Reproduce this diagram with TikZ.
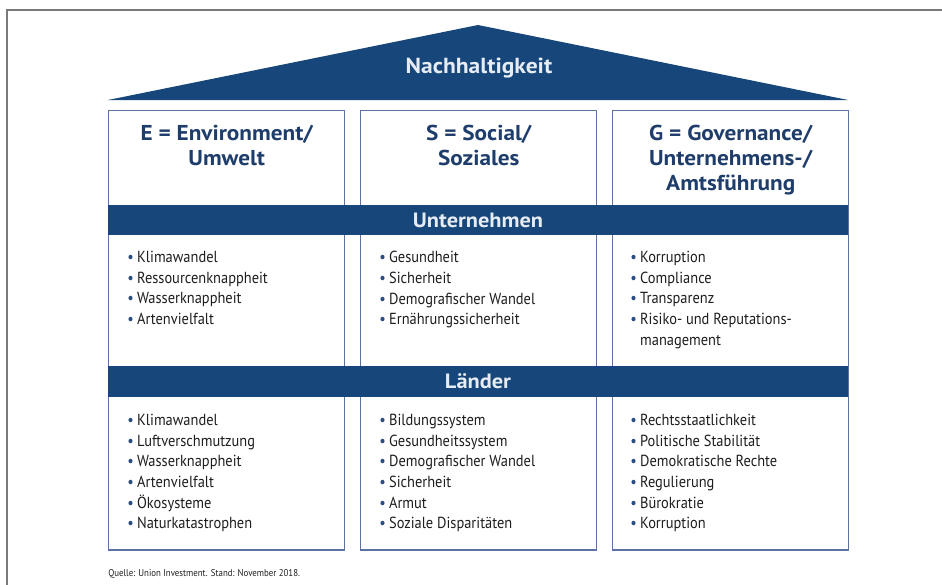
\documentclass[tikz,border=0pt]{standalone}
\usepackage{fontspec}
\setmainfont[FakeStretch=0.9]{PT Sans}
\newfontfamily\titlefont[FakeStretch=1.08]{PT Sans}
\usetikzlibrary{positioning}
\definecolor{roofblue}{HTML}{16467A}
\definecolor{titleblue}{HTML}{1F3D6B}
\definecolor{boxline}{HTML}{5C73A0}
\definecolor{bandtext}{HTML}{E6ECF4}
\definecolor{itemtext}{HTML}{1E1E1E}
\definecolor{dotblue}{HTML}{2A4C80}
\definecolor{framegray}{HTML}{7A7A7A}
\newcommand{\pkt}{\makebox[7pt][l]{\textcolor{dotblue}{\textbullet}}}
\newcommand{\weiter}{\hspace*{7pt}}

\begin{document}
\begin{tikzpicture}
			[
				x = 0.025cm, y = -0.025cm,
				pillar/.style = {draw = boxline, line width = 1pt, fill = white, anchor = north west, inner sep = 0pt, minimum width = 5.9cm, minimum height = 10.975cm},
				pillartitle/.style = {align = center, inner sep = 0pt, text = titleblue, font = \titlefont\fontsize{15.3}{18}\selectfont\bfseries},
				band/.style = {fill = roofblue, inner sep = 0pt, minimum width = 18.5cm, minimum height = 0.76cm, text = bandtext, font = \titlefont\fontsize{14.7}{18}\selectfont\bfseries},
				itemlist/.style = {anchor = north west, align = left, inner sep = 0pt, text = itemtext, font = \fontsize{11.4}{14.7}\selectfont},
				frameline/.style = {draw = framegray, line width = 1pt}
			]
			\useasboundingbox (0,0) rectangle (942,585);
			%
			\draw [frameline] (7,585) -- (7,10) -- (942,10);
			%
			\fill [roofblue] (108,100) -- (478,25) -- (848,100) -- cycle;
			\node (roof) [pillartitle, text = bandtext, font = \titlefont\fontsize{15.5}{18}\selectfont\bfseries] at (479,68) {Nachhaltigkeit};
			%
			\node (envbox) [pillar] at (108,110) {};
			\node (socbox) [pillar] at (360,110) {};
			\node (govbox) [pillar] at (612,110) {};
			%
			\node (envtitle) [pillartitle, below = 0.36cm of envbox.north] {E = Environment/\\Umwelt};
			\node (soctitle) [pillartitle, below = 0.36cm of socbox.north] {S = Social/\\Soziales};
			\node (govtitle) [pillartitle, below = 0.36cm of govbox.north] {G = Governance/\\Unternehmens-/\\Amtsführung};
			%
			\node (firmband) [band] at (478,220) {Unternehmen};
			\node (landband) [band] at (478,381.5) {Länder};
			%
			\node (envfirm) [itemlist] at (127,251) {\pkt Klimawandel\\\pkt Ressourcenknappheit\\\pkt Wasserknappheit\\\pkt Artenvielfalt};
			\node (socfirm) [itemlist] at (379,251) {\pkt Gesundheit\\\pkt Sicherheit\\\pkt Demografischer Wandel\\\pkt Ernährungssicherheit};
			\node (govfirm) [itemlist] at (630,251) {\pkt Korruption\\\pkt Compliance\\\pkt Transparenz\\\pkt Risiko- und Reputations-\\\weiter management};
			%
			\node (envland) [itemlist] at (127,414) {\pkt Klimawandel\\\pkt Luftverschmutzung\\\pkt Wasserknappheit\\\pkt Artenvielfalt\\\pkt Ökosysteme\\\pkt Naturkatastrophen};
			\node (socland) [itemlist] at (379,414) {\pkt Bildungssystem\\\pkt Gesundheitssystem\\\pkt Demografischer Wandel\\\pkt Sicherheit\\\pkt Armut\\\pkt Soziale Disparitäten};
			\node (govland) [itemlist] at (630,414) {\pkt Rechtsstaatlichkeit\\\pkt Politische Stabilität\\\pkt Demokratische Rechte\\\pkt Regulierung\\\pkt Bürokratie\\\pkt Korruption};
			%
			\node (source) [anchor = west, inner sep = 0pt, text = itemtext, font = \fontsize{7}{9}\selectfont] at (108,574) {Quelle: Union Investment. Stand: November 2018.};
			%
		\end{tikzpicture}
\end{document}
